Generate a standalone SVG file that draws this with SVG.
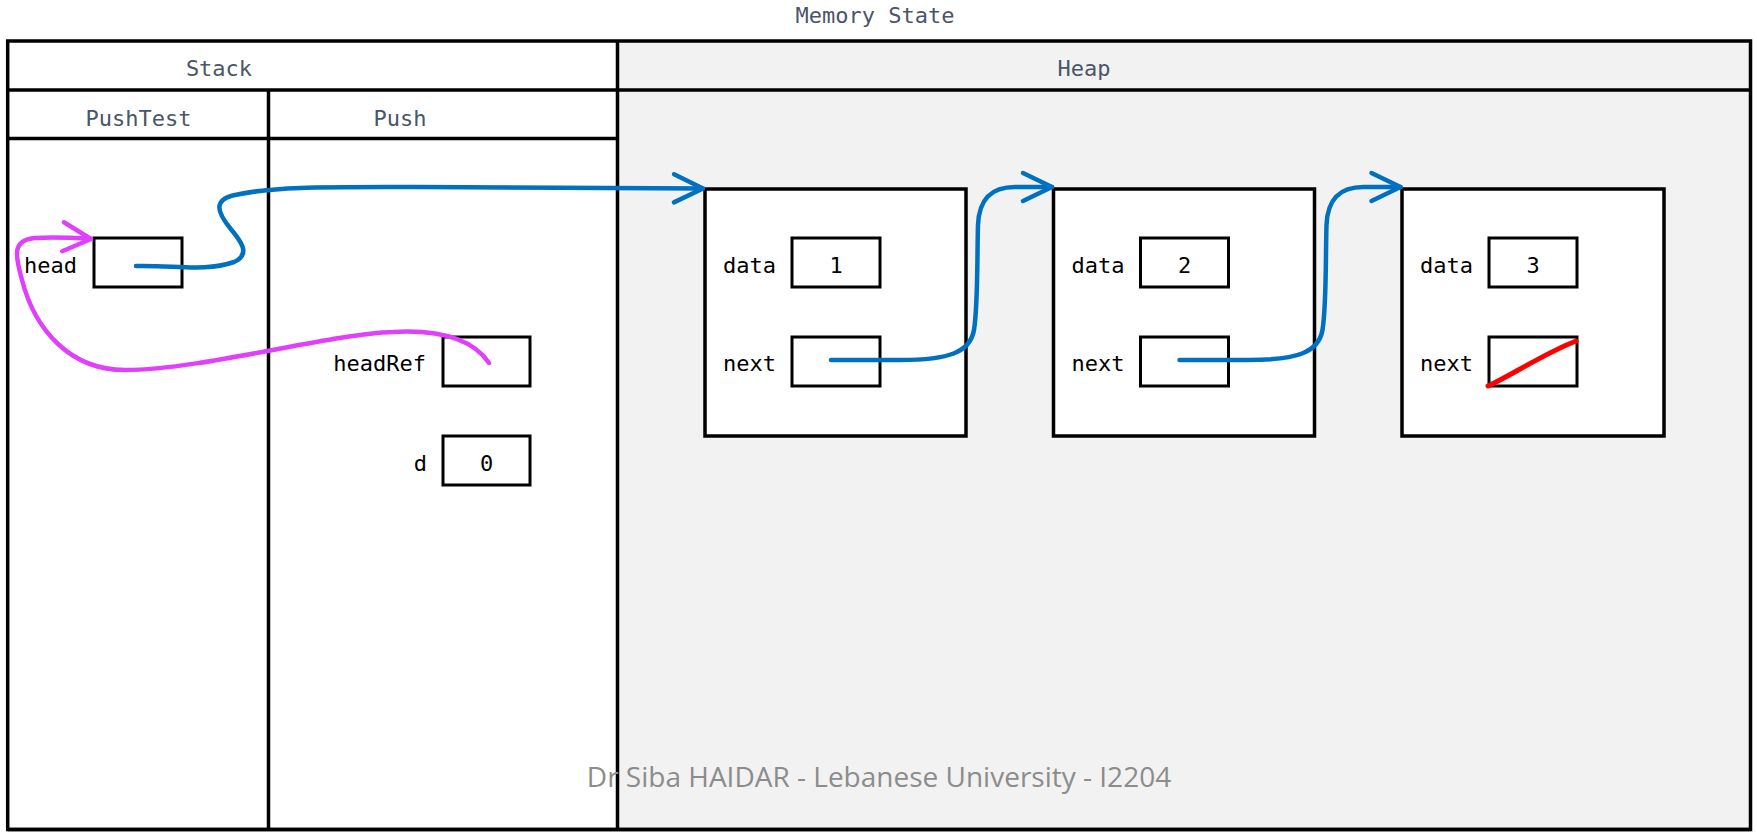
<svg xmlns="http://www.w3.org/2000/svg" width="1757" height="832" viewBox="0 0 1757 832">
<style>
.grid{fill:none;stroke:#000;stroke-width:3.5}
.hdr{font-family:"DejaVu Sans Mono",monospace;font-size:22px;fill:#4a5568}
.lbl{font-family:"DejaVu Sans Mono",monospace;font-size:22px;fill:#000}
.box{fill:#fff;stroke:#000;stroke-width:3}
.obj{fill:#fff;stroke:#000;stroke-width:3.5}
.blue{fill:none;stroke:#0070c0;stroke-width:4.5;stroke-linecap:round;stroke-linejoin:round}
.mag{fill:none;stroke:#e040fb;stroke-width:4.5;stroke-linecap:round;stroke-linejoin:round}
.foot{font-family:"Open Sans",sans-serif;font-size:28px;fill:#8c8c8c}
</style>
<defs>
<marker id="arrB" markerUnits="userSpaceOnUse" viewBox="-34 -18 40 36" refX="0" refY="0" markerWidth="40" markerHeight="36" orient="auto">
<path d="M-29,-14 L0,0 L-29,14" fill="none" stroke="#0070c0" stroke-width="4.5" stroke-linecap="round" stroke-linejoin="round"/>
</marker>
<marker id="arrM" markerUnits="userSpaceOnUse" viewBox="-34 -18 40 36" refX="0" refY="0" markerWidth="40" markerHeight="36" orient="auto">
<path d="M-28,-15 L0,0 L-28,14" fill="none" stroke="#e040fb" stroke-width="4.5" stroke-linecap="round" stroke-linejoin="round"/>
</marker>
</defs>
<rect width="1757" height="832" fill="#fff"/>
<text class="hdr" x="875" y="23" text-anchor="middle">Memory State</text>
<g id="frame">
<rect x="617.5" y="41" width="1133" height="788.5" fill="#f2f2f2"/>
<rect class="grid" x="7.7" y="41" width="1742.8" height="788.5"/>
<line class="grid" x1="7.7" y1="829.5" x2="1750.5" y2="829.5" stroke-width="5"/>
<line class="grid" x1="7.7" y1="90" x2="1750.5" y2="90"/>
<line class="grid" x1="7.7" y1="138.5" x2="617.5" y2="138.5"/>
<line class="grid" x1="617.5" y1="41" x2="617.5" y2="829.5"/>
<line class="grid" x1="268.5" y1="90" x2="268.5" y2="829.5"/>
<text class="hdr" x="219" y="76" text-anchor="middle">Stack</text>
<text class="hdr" x="1084" y="76" text-anchor="middle">Heap</text>
<text class="hdr" x="138.5" y="126" text-anchor="middle">PushTest</text>
<text class="hdr" x="400" y="126" text-anchor="middle">Push</text>
</g>
<g id="head">
<text class="lbl" x="77" y="272.5" text-anchor="end">head</text>
<rect class="box" x="94" y="238" width="88" height="49"/>
</g>
<g id="headRef">
<text class="lbl" x="426" y="371" text-anchor="end">headRef</text>
<rect class="box" x="443" y="337" width="87" height="49"/>
</g>
<g id="d">
<text class="lbl" x="427" y="471" text-anchor="end">d</text>
<rect class="box" x="443" y="436" width="87" height="49"/>
<text class="lbl" x="486.5" y="471" text-anchor="middle">0</text>
</g>
<g id="node1">
<rect class="obj" x="705" y="189" width="261" height="247"/>
<text class="lbl" x="723" y="273">data</text>
<rect class="box" x="792" y="238" width="88" height="49"/>
<text class="lbl" x="836" y="273" text-anchor="middle">1</text>
<text class="lbl" x="723" y="371">next</text>
<rect class="box" x="792" y="337" width="88" height="49"/>
</g>
<g id="node2">
<rect class="obj" x="1053.5" y="189" width="261" height="247"/>
<text class="lbl" x="1071.5" y="273">data</text>
<rect class="box" x="1140.5" y="238" width="88" height="49"/>
<text class="lbl" x="1184.5" y="273" text-anchor="middle">2</text>
<text class="lbl" x="1071.5" y="371">next</text>
<rect class="box" x="1140.5" y="337" width="88" height="49"/>
</g>
<g id="node3">
<rect class="obj" x="1402" y="189" width="262" height="247"/>
<text class="lbl" x="1420" y="273">data</text>
<rect class="box" x="1489" y="238" width="88" height="49"/>
<text class="lbl" x="1533" y="273" text-anchor="middle">3</text>
<text class="lbl" x="1420" y="371">next</text>
<rect class="box" x="1489" y="337" width="88" height="49"/>
<path d="M1488,386 C1512,375 1545,353 1576,341" fill="none" stroke="#ff0000" stroke-width="5" stroke-linecap="round"/>
</g>
<g id="connectors">
<path class="blue" marker-end="url(#arrB)" d="M136,266 C175,265 205,272 234,262 C252,254 240,240 230,228 C218,213 212,200 235,195 C275,186 330,187 420,187 L703,188.5"/>
<path class="blue" marker-end="url(#arrB)" d="M831,360 L900,360 C950,360 970,352 974,330 C978,305 977,260 978,225 C979,200 990,187 1015,187 L1052,187"/>
<path class="blue" marker-end="url(#arrB)" d="M1179.5,360 L1248.5,360 C1298.5,360 1318.5,352 1322.5,330 C1326.5,305 1325.5,260 1326.5,225 C1327.5,200 1338.5,187 1363.5,187 L1400.5,187"/>
<path class="mag" marker-end="url(#arrM)" d="M489,363 C470,335 430,330 393,332 C330,334 200,370 125,370 C70,370 35,330 22,280 C15,255 12,240 35,238 C55,237 75,238 91,239"/>
</g>
<text class="foot" x="879" y="787" text-anchor="middle">Dr Siba HAIDAR - Lebanese University - I2204</text>
</svg>
